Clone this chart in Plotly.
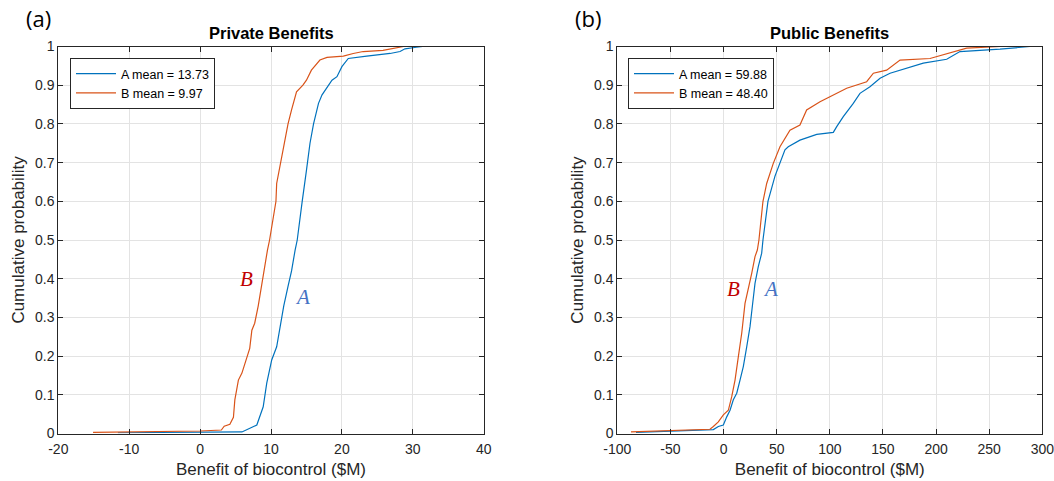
import plotly.graph_objects as go

# ---- data (x value, cumulative probability) ----
priv_A_x = [-11.6, 0.0, 5.9, 8.0, 8.9, 9.4, 10.1, 10.8, 11.3, 11.8, 12.4, 12.9, 13.4, 13.7, 14.4, 14.7, 15.0,
            15.5, 16.0, 16.7, 17.2, 18.6, 19.3, 20.0, 20.9, 23.5, 26.8, 28.2, 28.9, 30.5, 31.4]
priv_A_p = [0.002, 0.003, 0.004, 0.022, 0.069, 0.13, 0.19, 0.224, 0.276, 0.33, 0.38, 0.42, 0.474, 0.5, 0.6, 0.646, 0.68,
            0.75, 0.80, 0.853, 0.875, 0.913, 0.922, 0.948, 0.969, 0.975, 0.982, 0.987, 0.994, 0.998, 1.0]

priv_B_x = [-15.1, -5.0, 0.0, 3.0, 3.4, 4.2, 4.7, 4.9, 5.4, 5.9, 6.3, 6.8, 7.0, 7.3, 7.7, 8.2, 8.7, 9.2, 9.5, 9.8,
            10.7, 10.8, 11.5, 12.0, 12.4, 12.9, 13.6, 14.5, 15.0, 15.7, 16.9, 17.9, 20.2, 21.6, 23.0, 25.8, 28.7]
priv_B_p = [0.003, 0.005, 0.0065, 0.009, 0.019, 0.024, 0.042, 0.087, 0.138, 0.156, 0.181, 0.207, 0.22, 0.267, 0.285,
            0.33, 0.388, 0.448, 0.474, 0.5, 0.6, 0.646, 0.715, 0.767, 0.80, 0.836, 0.883, 0.90, 0.913, 0.939, 0.965,
            0.972, 0.975, 0.982, 0.987, 0.99, 1.0]

pub_A_x = [-82.4, -40.0, -12.8, -9.6, -4.9, -0.2, 3.0, 6.1, 9.2, 12.4, 15.5, 18.6, 21.8, 24.9, 27.4, 29.6, 32.7, 35.9,
           37.1, 41.8, 48.4, 53.1, 57.8, 60.9, 71.9, 87.7, 103.3, 106.5, 112.7, 122.1, 128.4, 137.8, 147.3, 156.7,
           172.4, 188.0, 210.0, 222.5, 260.2, 288.4]
pub_A_p = [0.003, 0.006, 0.009, 0.01, 0.018, 0.022, 0.043, 0.06, 0.087, 0.104, 0.138, 0.173, 0.224, 0.276, 0.336,
           0.388, 0.431, 0.466, 0.5, 0.6, 0.665, 0.698, 0.733, 0.741, 0.758, 0.773, 0.778, 0.793, 0.819, 0.853, 0.879,
           0.896, 0.918, 0.931, 0.944, 0.957, 0.967, 0.987, 0.993, 1.0]

pub_B_x = [-87.1, -40.0, -12.8, -9.6, -4.9, -0.2, 4.5, 7.7, 10.8, 13.9, 17.1, 20.2, 23.3, 26.5, 29.6, 31.8, 33.3,
           37.1, 40.6, 46.8, 53.1, 62.5, 71.9, 78.2, 90.8, 103.3, 115.9, 134.7, 141.0, 153.5, 166.1, 194.3, 210.0,
           228.8, 260.2]
pub_B_p = [0.004, 0.008, 0.011, 0.018, 0.03, 0.048, 0.06, 0.095, 0.138, 0.198, 0.259, 0.336, 0.371, 0.414, 0.457,
           0.474, 0.5, 0.6, 0.646, 0.698, 0.741, 0.784, 0.797, 0.836, 0.857, 0.875, 0.892, 0.909, 0.931, 0.939, 0.965,
           0.969, 0.982, 0.996, 1.0]

legend_priv = ["A mean = 13.73", "B mean = 9.97"]
legend_pub = ["A mean = 59.88", "B mean = 48.40"]
titles = ["Private Benefits", "Public Benefits"]
panel_labels = ["(a)", "(b)"]
y_ticks = [0, 0.1, 0.2, 0.3, 0.4, 0.5, 0.6, 0.7, 0.8, 0.9, 1]
y_ticklabels = ["0", "0.1", "0.2", "0.3", "0.4", "0.5", "0.6", "0.7", "0.8", "0.9", "1"]
x_ticks_priv = [-20, -10, 0, 10, 20, 30, 40]
x_ticklabels_priv = ["-20", "-10", "0", "10", "20", "30", "40"]
x_ticks_pub = [-100, -50, 0, 50, 100, 150, 200, 250, 300]
x_ticklabels_pub = ["-100", "-50", "0", "50", "100", "150", "200", "250", "300"]
x_title = "Benefit of biocontrol ($M)"
y_title = "Cumulative probability"

BLUE = "#0072BD"
ORANGE = "#D95319"
FONT = "Liberation Sans, Arial, sans-serif"

fig = go.Figure()
fig.add_trace(go.Scatter(x=priv_A_x, y=priv_A_p, mode="lines", name=legend_priv[0],
                         line=dict(color=BLUE, width=1.2), xaxis="x", yaxis="y", legend="legend"))
fig.add_trace(go.Scatter(x=priv_B_x, y=priv_B_p, mode="lines", name=legend_priv[1],
                         line=dict(color=ORANGE, width=1.2), xaxis="x", yaxis="y", legend="legend"))
fig.add_trace(go.Scatter(x=pub_A_x, y=pub_A_p, mode="lines", name=legend_pub[0],
                         line=dict(color=BLUE, width=1.2), xaxis="x2", yaxis="y2", legend="legend2"))
fig.add_trace(go.Scatter(x=pub_B_x, y=pub_B_p, mode="lines", name=legend_pub[1],
                         line=dict(color=ORANGE, width=1.2), xaxis="x2", yaxis="y2", legend="legend2"))

axis_common = dict(showline=True, linecolor="#262626", linewidth=1, mirror="ticks", ticks="inside",
                   ticklen=5, tickcolor="#262626", showgrid=True, gridcolor="#E3E3E3", gridwidth=1,
                   zeroline=False, automargin=False, ticklabeloverflow="allow",
                   tickfont=dict(family=FONT, size=14, color="#262626"))
x_extra = dict(ticklabelstandoff=3)

y0, y1 = (481 - 433.5) / 481, (481 - 46.5) / 481
legend_style = dict(yanchor="top", xanchor="left", bgcolor="white", bordercolor="#262626", borderwidth=1,
                    font=dict(size=12.5, color="#000000"), itemwidth=40, tracegroupgap=0)
fig.update_layout(
    width=1054, height=481, margin=dict(l=0, r=0, t=0, b=0, autoexpand=False),
    paper_bgcolor="white", plot_bgcolor="white",
    font=dict(family=FONT, color="#262626"),
    xaxis=dict(domain=[58.3 / 1054, 483.7 / 1054], range=[-20, 40], tickvals=x_ticks_priv,
               ticktext=x_ticklabels_priv,
               title=dict(text=x_title, font=dict(size=17), standoff=6), anchor="y", **axis_common, **x_extra),
    yaxis=dict(domain=[y0, y1], range=[0, 1], tickvals=y_ticks, ticktext=y_ticklabels,
               title=dict(text=y_title, font=dict(size=17), standoff=6), anchor="x", **axis_common),
    xaxis2=dict(domain=[617.3 / 1054, 1042.3 / 1054], range=[-100, 300], tickvals=x_ticks_pub,
                ticktext=x_ticklabels_pub,
                title=dict(text=x_title, font=dict(size=17), standoff=6), anchor="y2", **axis_common, **x_extra),
    yaxis2=dict(domain=[y0, y1], range=[0, 1], tickvals=y_ticks, ticktext=y_ticklabels,
                title=dict(text=y_title, font=dict(size=17), standoff=6), anchor="x2", **axis_common),
    legend=dict(x=70 / 1054, y=(481 - 58) / 481, **legend_style),
    legend2=dict(x=628 / 1054, y=(481 - 58) / 481, **legend_style),
    showlegend=True,
)

ann = []
# titles
for i, (xc) in enumerate([(58.3 + 483.7) / 2, (617.3 + 1042.3) / 2]):
    ann.append(dict(text="<b>" + titles[i] + "</b>", x=xc / 1054, y=(481 - 33) / 481,
                    xref="paper", yref="paper", xanchor="center", yanchor="middle", showarrow=False,
                    font=dict(size=16.5, color="#000000", family=FONT)))
# panel labels
for i, xc in enumerate([38, 588]):
    ann.append(dict(text=panel_labels[i], x=xc / 1054, y=(481 - 18) / 481, xref="paper", yref="paper",
                    xanchor="center", yanchor="middle", showarrow=False,
                    font=dict(size=22, color="#000000", family="Open Sans, sans-serif")))
# curve labels
serif = "Liberation Serif, DejaVu Serif, serif"
curve_labels = [("B", 6.6, 0.40, "x", "y", "#C00000"), ("A", 14.4, 0.353, "x", "y", "#4472C4"),
                ("B", 9.8, 0.373, "x2", "y2", "#C00000"), ("A", 44.5, 0.373, "x2", "y2", "#4472C4")]
for t, xv, yv, xr, yr, c in curve_labels:
    ann.append(dict(text="<i>" + t + "</i>", x=xv, y=yv, xref=xr, yref=yr, showarrow=False,
                    xanchor="center", yanchor="middle", font=dict(size=21, color=c, family=serif)))
fig.update_layout(annotations=ann)

fig.write_html("out.html")
